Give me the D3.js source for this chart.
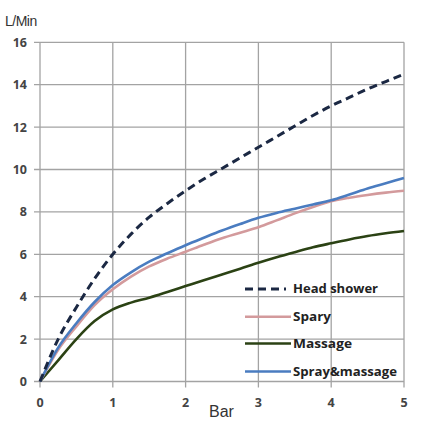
<!DOCTYPE html>
<html><head><meta charset="utf-8">
<script src="https://cdn.jsdelivr.net/npm/d3@7"></script>
<style>html,body{margin:0;padding:0;background:#fff;}svg{display:block;}</style>
</head><body>
<svg id="c" width="433" height="433"></svg>
<script>
const pressure = [0,0.25,0.5,0.75,1,1.25,1.5,1.75,2,2.25,2.5,2.75,3,3.25,3.5,3.75,4,4.25,4.5,4.75,5];
const headShower = [0,2.0,3.5,4.85,6.0,6.95,7.75,8.4,9.0,9.55,10.05,10.55,11.05,11.55,12.05,12.55,13.0,13.4,13.8,14.15,14.5];
const spary = [0,1.5,2.6,3.6,4.35,4.95,5.43,5.8,6.12,6.45,6.76,7.02,7.28,7.6,7.93,8.23,8.5,8.67,8.8,8.91,9.0];
const massage = [0,1.0,2.0,2.85,3.4,3.72,3.95,4.22,4.5,4.78,5.05,5.32,5.6,5.86,6.1,6.33,6.52,6.7,6.86,6.99,7.1];
const sprayMassage = [0,1.6,2.75,3.75,4.55,5.15,5.65,6.05,6.43,6.78,7.12,7.43,7.72,7.95,8.15,8.35,8.55,8.82,9.1,9.35,9.6];
const seriesNames = ["Head shower","Spary","Massage","Spray&massage"];
const xTicks = [0,1,2,3,4,5];
const yTicks = [0,2,4,6,8,10,12,14,16];

const svg = d3.select("#c");
const x = d3.scaleLinear().domain([0,5]).range([40,404]);
const y = d3.scaleLinear().domain([0,16]).range([381.5,42.3]);
const grid = "#a3a3a3";

// grid
svg.append("g").selectAll("line").data(xTicks).join("line")
  .attr("x1",d=>x(d)).attr("x2",d=>x(d)).attr("y1",y(16)).attr("y2",y(0)+6)
  .attr("stroke",grid).attr("stroke-width",1.3);
svg.append("g").selectAll("line").data(yTicks).join("line")
  .attr("x1",x(0)-6).attr("x2",x(5)).attr("y1",d=>y(d)).attr("y2",d=>y(d))
  .attr("stroke",grid).attr("stroke-width",1.3);

// tick labels
svg.append("g").selectAll("text").data(yTicks).join("text")
  .attr("x",27).attr("y",d=>y(d)).attr("dy","0.36em").attr("text-anchor","end")
  .attr("font-family","Open Sans, sans-serif").attr("font-weight","bold").attr("font-size",12.5)
  .attr("fill","#444").text(d=>d);
svg.append("g").selectAll("text").data(xTicks).join("text")
  .attr("x",d=>x(d)).attr("y",402).attr("dy","0.36em").attr("text-anchor","middle")
  .attr("font-family","Open Sans, sans-serif").attr("font-weight","bold").attr("font-size",12.5)
  .attr("fill","#444").text(d=>d);

svg.append("text").attr("x",5).attr("y",26).attr("font-family","Liberation Sans Narrow, Arial, sans-serif")
  .attr("font-size",14).attr("fill","#333").attr("letter-spacing",-0.5).text("L/Min");
svg.append("text").attr("x",209).attr("y",417).attr("font-family","Liberation Sans Narrow, Arial, sans-serif")
  .attr("font-size",16).attr("fill","#333").text("Bar");

const series = [
  {name:seriesNames[0], values:headShower, color:"#1b2843", dash:"8,5", w:3},
  {name:seriesNames[1], values:spary, color:"#d39a9c", dash:null, w:2.6},
  {name:seriesNames[2], values:massage, color:"#2b4214", dash:null, w:2.6},
  {name:seriesNames[3], values:sprayMassage, color:"#4a7cc0", dash:null, w:2.6}
];
const line = d3.line().x((d,i)=>x(pressure[i])).y(d=>y(d)).curve(d3.curveMonotoneX);
const drawOrder = [2,1,3,0];
drawOrder.forEach(k=>{
  const s = series[k];
  svg.append("path").attr("d",line(s.values)).attr("fill","none")
    .attr("stroke",s.color).attr("stroke-width",s.w)
    .attr("stroke-dasharray",s.dash).attr("stroke-linecap","butt");
});

// legend
const legY = [289,316.7,343.5,371.5];
const legLen = [85,38,59,104];
series.forEach((s,i)=>{
  svg.append("line").attr("x1",245).attr("x2",s.dash?286:291).attr("y1",legY[i]).attr("y2",legY[i])
    .attr("stroke",s.color).attr("stroke-width",s.w).attr("stroke-dasharray",s.dash);
  svg.append("text").attr("x",293).attr("y",legY[i]).attr("dy","0.36em")
    .attr("font-family","Open Sans, sans-serif").attr("font-weight","bold").attr("font-size",11.5)
    .attr("fill","#222").attr("textLength",legLen[i]).attr("lengthAdjust","spacingAndGlyphs").text(s.name);
});
</script>
</body></html>
